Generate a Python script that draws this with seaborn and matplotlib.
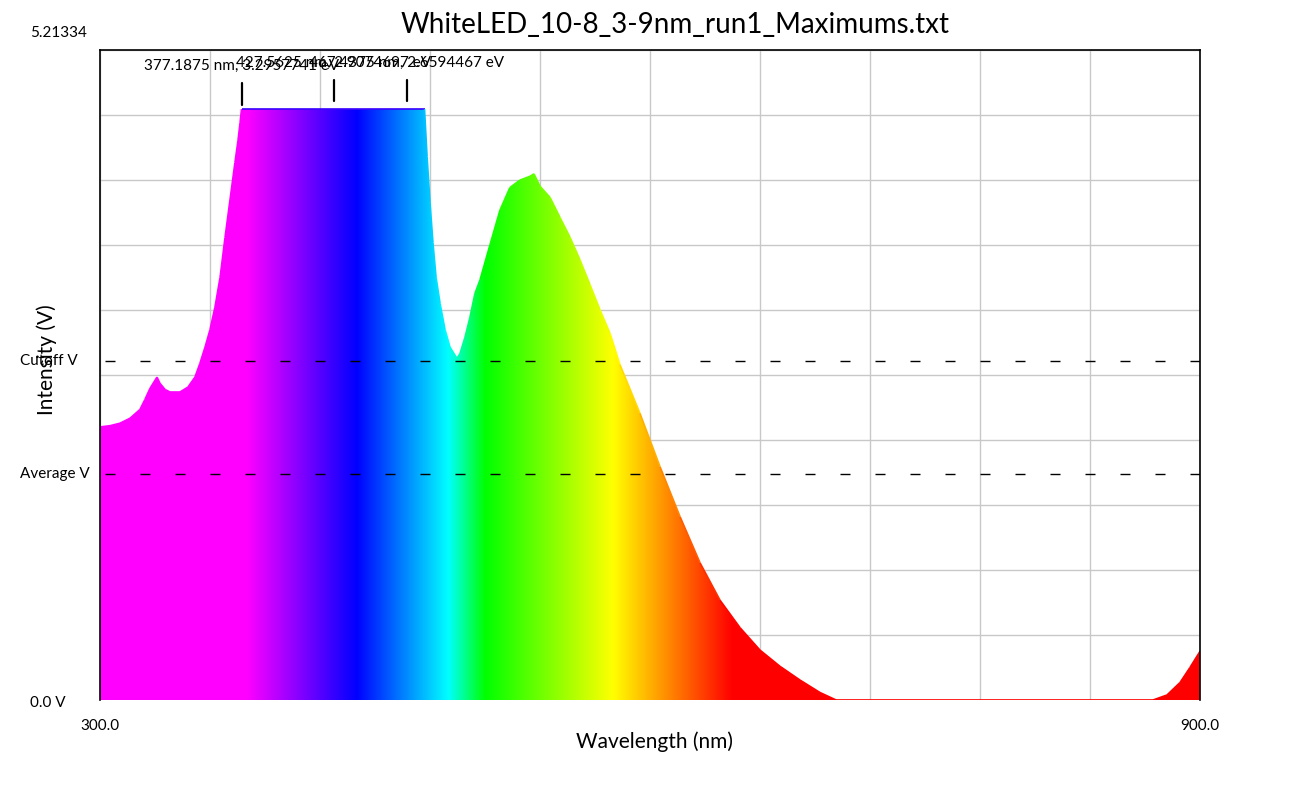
import numpy as np
import matplotlib
matplotlib.use("Agg")
import matplotlib.pyplot as plt
import seaborn as sns
from matplotlib.patches import Polygon
from matplotlib.collections import LineCollection

# spectrum
wavelength_nm = [300.0, 305.5, 310.9, 316.4, 321.8, 324.5, 327.3, 331.1, 332.7, 335.5,
                 338.2, 343.6, 348.0, 351.8, 354.5, 357.3, 360.0, 362.7, 365.5, 368.2,
                 370.9, 373.6, 375.3, 376.4, 377.2, 477.0, 478.4, 480.0, 481.6, 483.3,
                 485.5, 488.2, 490.9, 494.7, 496.4, 499.1, 501.8, 504.5, 507.3, 512.7,
                 518.2, 523.6, 529.1, 534.5, 536.7, 540.0, 545.5, 550.9, 556.4, 561.8,
                 567.3, 572.7, 578.2, 583.6, 594.5, 605.5, 616.4, 627.3, 638.2, 649.1,
                 660.0, 670.9, 681.8, 692.7, 701.5, 874.4, 882.0, 889.1, 894.5, 900.0]
intensity_v = [2.19, 2.20, 2.22, 2.26, 2.33, 2.41, 2.50, 2.59, 2.54, 2.49,
               2.47, 2.47, 2.51, 2.59, 2.70, 2.83, 2.97, 3.15, 3.39, 3.71,
               4.01, 4.31, 4.49, 4.63, 4.7394, 4.7394, 4.36, 3.99, 3.67, 3.39,
               3.18, 2.97, 2.83, 2.74, 2.78, 2.91, 3.07, 3.26, 3.37, 3.65,
               3.93, 4.11, 4.17, 4.20, 4.22, 4.12, 4.03, 3.87, 3.71, 3.53,
               3.33, 3.13, 2.94, 2.69, 2.30, 1.87, 1.47, 1.10, 0.80, 0.58,
               0.40, 0.27, 0.16, 0.06, 0.0, 0.0, 0.04, 0.14, 0.26, 0.39]

# labelled maximums
peak_nm = [377.1875, 427.5625, 467.4375]
peak_ev = ["3.2957741", "2.9074697", "2.6594467"]
peak_marker_lo = [4.772, 4.804, 4.804]
peak_marker_hi = [4.949, 4.973, 4.973]
peak_text_y = [5.085, 5.109, 5.109]

y_top = 5.21334
cutoff_v = 2.719
average_v = 1.813
x_min, x_max = 300.0, 900.0


def spectrum_rgb(w):
    if w < 380:
        return (1.0, 0.0, 1.0)
    if w < 440:
        return ((440 - w) / 60, 0.0, 1.0)
    if w < 490:
        return (0.0, (w - 440) / 50, 1.0)
    if w < 510:
        return (0.0, 1.0, (510 - w) / 20)
    if w < 580:
        return ((w - 510) / 70, 1.0, 0.0)
    if w < 645:
        return (1.0, (645 - w) / 65, 0.0)
    return (1.0, 0.0, 0.0)


sns.set_theme(style="white")
plt.rcParams["font.family"] = ["Lato", "DejaVu Sans"]
plt.rcParams["text.color"] = "black"
plt.rcParams["xtick.color"] = "black"

fig = plt.figure(figsize=(13, 8), dpi=100)
ax = fig.add_axes([100 / 1300, 100 / 800, 1100 / 1300, 650 / 800])
ax.set_xlim(x_min, x_max)
ax.set_ylim(0, y_top)

# grid behind everything
ax.set_xticks(np.linspace(x_min, x_max, 11))
ax.set_xticklabels(["300.0"] + [""] * 9 + ["900.0"], fontsize=11, color="black")
ax.set_yticks(np.linspace(0, y_top, 11))
ax.set_yticklabels([])
ax.tick_params(length=0, pad=14)
ax.grid(True, color="#c8c8c8", linewidth=1.0)
ax.set_axisbelow(True)

# gradient fill clipped by the spectrum
grid_w = np.linspace(x_min, x_max, 1200)
colours = np.array([[spectrum_rgb(w) for w in grid_w]])
img = ax.imshow(colours, extent=[x_min, x_max, 0, y_top], aspect="auto",
                interpolation="bilinear", zorder=1)
verts = [(x_min, 0)] + list(zip(wavelength_nm, intensity_v)) + [(x_max, 0)]
shape = Polygon(verts, closed=True, facecolor="none", edgecolor="none")
ax.add_patch(shape)
img.set_clip_path(shape)

pts = np.column_stack([wavelength_nm, intensity_v])
segs = np.stack([pts[:-1], pts[1:]], axis=1)
mids = (pts[:-1, 0] + pts[1:, 0]) / 2
edge = LineCollection(segs, colors=[spectrum_rgb(m) for m in mids], linewidths=1.2, zorder=2)
ax.add_collection(edge)

# reference lines
for level in [cutoff_v, average_v]:
    ax.axhline(level, color="black", linewidth=1.0,
               linestyle=(21.6, (7.2, 18)), zorder=3)

# maximum markers
for nm, ev, lo, hi, ty in zip(peak_nm, peak_ev, peak_marker_lo, peak_marker_hi, peak_text_y):
    ax.plot([nm, nm], [lo, hi], color="black", linewidth=1.6, zorder=4, clip_on=False)
    ax.text(nm, ty, f"{nm} nm, {ev} eV", ha="center", va="center",
            fontsize=11, zorder=5, clip_on=False)

for side in ["left", "top", "right"]:
    ax.spines[side].set_color("black")
    ax.spines[side].set_linewidth(1.2)
ax.spines["bottom"].set_visible(False)

# left side labels
ytr = ax.get_yaxis_transform()
ax.text(-0.0636, -0.024, "0.0 V", transform=ytr, ha="left", va="center", fontsize=11)
ax.text(-0.0727, average_v, "Average V", transform=ytr, ha="left", va="center", fontsize=11)
ax.text(-0.0727, cutoff_v, "Cutoff V", transform=ytr, ha="left", va="center", fontsize=11)
ax.text(-0.0636, y_top + 0.136, "5.21334", transform=ytr, ha="left", va="center",
        fontsize=11, clip_on=False)

fig.text(675 / 1300, 1 - 25 / 800, "WhiteLED_10-8_3-9nm_run1_Maximums.txt",
         ha="center", va="center", fontsize=20)
fig.text(655 / 1300, 1 - 742 / 800, "Wavelength (nm)", ha="center", va="center", fontsize=15)
fig.text(47 / 1300, 1 - 360 / 800, "Intensity (V)", ha="center", va="center",
         rotation=90, fontsize=15)

fig.savefig("out.png", dpi=100)
